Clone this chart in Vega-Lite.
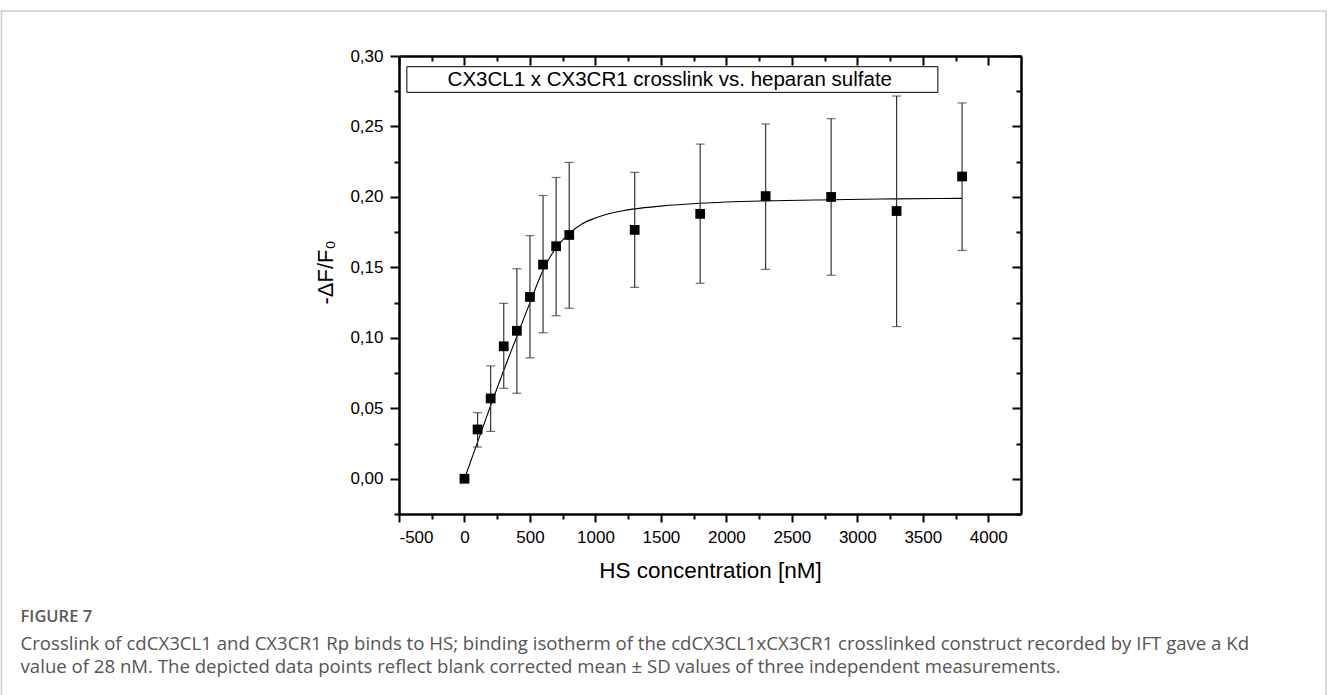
{
  "$schema": "https://vega.github.io/schema/vega-lite/v6.json",
  "autosize": {"type": "none"},
  "width": 622,
  "height": 458,
  "padding": {"left": 399, "top": 56, "right": 307, "bottom": 181},
  "background": "white",
  "config": {
    "view": {"stroke": null},
    "font": "Liberation Sans",
    "axis": {"grid": false, "domainColor": "black", "domainWidth": 2, "tickColor": "black", "tickWidth": 2, "labelColor": "black", "titleColor": "black", "labelFont": "Liberation Sans", "titleFont": "Liberation Sans", "titleFontWeight": "normal", "labelFontSize": 17, "titleFontSize": 22}
  },
  "datasets": {
    "pts": [
      {"conc": 0, "signal": 0.0, "lo": null, "hi": null},
      {"conc": 100, "signal": 0.035, "lo": 0.0225, "hi": 0.0469},
      {"conc": 200, "signal": 0.057, "lo": 0.0336, "hi": 0.0801},
      {"conc": 300, "signal": 0.094, "lo": 0.0642, "hi": 0.1245},
      {"conc": 400, "signal": 0.105, "lo": 0.0607, "hi": 0.149},
      {"conc": 500, "signal": 0.129, "lo": 0.0858, "hi": 0.1726},
      {"conc": 600, "signal": 0.152, "lo": 0.1036, "hi": 0.201},
      {"conc": 700, "signal": 0.165, "lo": 0.1157, "hi": 0.2138},
      {"conc": 800, "signal": 0.173, "lo": 0.121, "hi": 0.2245},
      {"conc": 1300, "signal": 0.1766, "lo": 0.1358, "hi": 0.2174},
      {"conc": 1800, "signal": 0.188, "lo": 0.1387, "hi": 0.2375},
      {"conc": 2300, "signal": 0.2006, "lo": 0.1486, "hi": 0.2518},
      {"conc": 2800, "signal": 0.2, "lo": 0.1444, "hi": 0.2555},
      {"conc": 3300, "signal": 0.19, "lo": 0.108, "hi": 0.2716},
      {"conc": 3800, "signal": 0.2145, "lo": 0.162, "hi": 0.2667}
    ],
    "fit": [
      {"conc": 0, "signal": 0.0},
      {"conc": 100, "signal": 0.026},
      {"conc": 200, "signal": 0.052},
      {"conc": 300, "signal": 0.077},
      {"conc": 400, "signal": 0.101},
      {"conc": 500, "signal": 0.125},
      {"conc": 600, "signal": 0.148},
      {"conc": 700, "signal": 0.164},
      {"conc": 800, "signal": 0.174},
      {"conc": 900, "signal": 0.181},
      {"conc": 1000, "signal": 0.185},
      {"conc": 1100, "signal": 0.188},
      {"conc": 1200, "signal": 0.19},
      {"conc": 1300, "signal": 0.1915},
      {"conc": 1500, "signal": 0.1935},
      {"conc": 1800, "signal": 0.1955},
      {"conc": 2300, "signal": 0.1972},
      {"conc": 2800, "signal": 0.198},
      {"conc": 3300, "signal": 0.1986},
      {"conc": 3800, "signal": 0.199}
    ],
    "box": [{"label": "CX3CL1 x CX3CR1 crosslink vs. heparan sulfate"}],
    "fig": [{"label": "FIGURE 7"}],
    "caption": [{"label": "Crosslink of cdCX3CL1 and CX3CR1 Rp binds to HS; binding isotherm of the cdCX3CL1xCX3CR1 crosslinked construct recorded by IFT gave a Kd\nvalue of 28 nM. The depicted data points reflect blank corrected mean ± SD values of three independent measurements."}]
  },
  "resolve": {"axis": {"x": "independent", "y": "independent"}},
  "layer": [
    {
      "data": {"name": "box"},
      "mark": {"type": "rect", "fill": null, "stroke": "#cccccc", "strokeWidth": 1.5},
      "encoding": {
        "x": {"datum": -3536, "type": "quantitative", "scale": {"domain": [-500, 4250], "nice": false, "zero": false},
          "axis": {"orient": "bottom", "values": [-500, 0, 500, 1000, 1500, 2000, 2500, 3000, 3500, 4000], "tickSize": 8, "labelPadding": 7, "labelExpr": "'' + datum.value", "title": "HS concentration [nM]", "titlePadding": 14, "titleFontSize": 22.5}},
        "x2": {"datum": 6579},
        "y": {"datum": 0.3319, "type": "quantitative", "scale": {"domain": [-0.025, 0.3], "nice": false, "zero": false},
          "axis": {"orient": "left", "values": [0, 0.05, 0.1, 0.15, 0.2, 0.25, 0.3], "tickSize": 9, "labelPadding": 7, "labelExpr": "replace(format(datum.value, '.2f'), '.', ',')", "title": "-ΔF/F₀", "titlePadding": 12, "titleY": 216}},
        "y2": {"datum": -0.2}
      }
    },
    {
      "data": {"name": "box"},
      "mark": {"type": "rect", "fill": "white", "stroke": "black", "strokeWidth": 1},
      "encoding": {
        "x": {"datum": -440, "type": "quantitative",
          "axis": {"orient": "bottom", "values": [-250, 250, 750, 1250, 1750, 2250, 2750, 3250, 3750], "tickSize": 5, "labels": false, "title": null}},
        "x2": {"datum": 3615},
        "y": {"datum": 0.2924, "type": "quantitative",
          "axis": {"orient": "left", "values": [-0.025, 0.025, 0.075, 0.125, 0.175, 0.225, 0.275], "tickSize": 5, "labels": false, "title": null}},
        "y2": {"datum": 0.2742}
      }
    },
    {
      "data": {"name": "box"},
      "mark": {"type": "text", "font": "Liberation Sans", "fontSize": 20.5, "color": "black", "align": "center", "baseline": "middle"},
      "encoding": {
        "x": {"datum": 1568, "type": "quantitative",
          "axis": {"orient": "top", "values": [-500, 0, 500, 1000, 1500, 2000, 2500, 3000, 3500, 4000], "tickSize": -9, "labels": false, "title": null}},
        "y": {"datum": 0.2833, "type": "quantitative",
          "axis": {"orient": "right", "values": [0, 0.05, 0.1, 0.15, 0.2, 0.25, 0.3], "tickSize": -9, "labels": false, "title": null}},
        "text": {"field": "label"}
      }
    },
    {
      "data": {"name": "fit"},
      "mark": {"type": "line", "color": "black", "strokeWidth": 1.1, "interpolate": "monotone"},
      "encoding": {
        "x": {"field": "conc", "type": "quantitative",
          "axis": {"orient": "top", "values": [-250, 250, 750, 1250, 1750, 2250, 2750, 3250, 3750], "tickSize": -5, "labels": false, "title": null}},
        "y": {"field": "signal", "type": "quantitative",
          "axis": {"orient": "right", "values": [-0.025, 0.025, 0.075, 0.125, 0.175, 0.225, 0.275], "tickSize": -5, "labels": false, "title": null}}
      }
    },
    {
      "data": {"name": "pts"},
      "mark": {"type": "rule", "color": "#333333", "strokeWidth": 1.2},
      "encoding": {
        "x": {"field": "conc", "type": "quantitative", "axis": null},
        "y": {"field": "lo", "type": "quantitative", "axis": null},
        "y2": {"field": "hi"}
      }
    },
    {
      "data": {"name": "pts"},
      "mark": {"type": "tick", "orient": "horizontal", "color": "#333333", "size": 9, "thickness": 1.2},
      "encoding": {
        "x": {"field": "conc", "type": "quantitative", "axis": null},
        "y": {"field": "hi", "type": "quantitative", "axis": null}
      }
    },
    {
      "data": {"name": "pts"},
      "mark": {"type": "tick", "orient": "horizontal", "color": "#333333", "size": 9, "thickness": 1.2},
      "encoding": {
        "x": {"field": "conc", "type": "quantitative", "axis": null},
        "y": {"field": "lo", "type": "quantitative", "axis": null}
      }
    },
    {
      "data": {"name": "pts"},
      "mark": {"type": "point", "shape": "square", "filled": true, "color": "black", "size": 95, "opacity": 1},
      "encoding": {
        "x": {"field": "conc", "type": "quantitative", "axis": null},
        "y": {"field": "signal", "type": "quantitative", "axis": null}
      }
    },
    {
      "data": {"name": "fig"},
      "mark": {"type": "text", "font": "Open Sans", "fontSize": 16.5, "fontWeight": 600, "color": "#5a5a5a", "align": "left", "baseline": "middle"},
      "encoding": {
        "x": {"datum": -3390, "type": "quantitative", "axis": null},
        "y": {"datum": -0.0981, "type": "quantitative", "axis": null},
        "text": {"field": "label"}
      }
    },
    {
      "data": {"name": "caption"},
      "mark": {"type": "text", "font": "Open Sans", "fontSize": 18.6, "color": "#555555", "align": "left", "baseline": "top", "lineBreak": "\n", "lineHeight": 23},
      "encoding": {
        "x": {"datum": -3390, "type": "quantitative", "axis": null},
        "y": {"datum": -0.1109, "type": "quantitative", "axis": null},
        "text": {"field": "label"}
      }
    }
  ]
}
